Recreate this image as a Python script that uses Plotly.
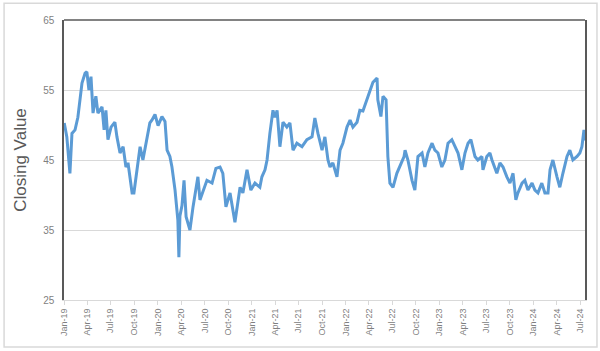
import plotly.graph_objects as go

dates = [
    "2019-01-02", "2019-01-12", "2019-01-24", "2019-02-01", "2019-02-13", "2019-02-24", "2019-03-12", "2019-03-24",
    "2019-03-31", "2019-04-08", "2019-04-16", "2019-04-24", "2019-05-05", "2019-05-13", "2019-05-29", "2019-06-06",
    "2019-06-13", "2019-06-21", "2019-07-03", "2019-07-18", "2019-07-26", "2019-08-07", "2019-08-19", "2019-08-30",
    "2019-09-07", "2019-09-23", "2019-09-30", "2019-10-16", "2019-10-24", "2019-11-04", "2019-11-20", "2019-12-01",
    "2019-12-09", "2019-12-21", "2020-01-02", "2020-01-17", "2020-01-29", "2020-02-06", "2020-02-17", "2020-02-25",
    "2020-03-08", "2020-03-19", "2020-03-23", "2020-03-27", "2020-04-04", "2020-04-12", "2020-04-20", "2020-05-05",
    "2020-05-17", "2020-06-05", "2020-06-13", "2020-06-25", "2020-07-10", "2020-07-30", "2020-08-14", "2020-08-30",
    "2020-09-10", "2020-09-22", "2020-10-08", "2020-10-27", "2020-11-16", "2020-11-27", "2020-12-13", "2020-12-28",
    "2021-01-13", "2021-02-01", "2021-02-09", "2021-02-21", "2021-03-01", "2021-03-12", "2021-03-24", "2021-04-01",
    "2021-04-09", "2021-04-20", "2021-05-02", "2021-05-17", "2021-05-29", "2021-06-10", "2021-06-25", "2021-07-15",
    "2021-08-03", "2021-08-23", "2021-09-03", "2021-09-15", "2021-10-01", "2021-10-12", "2021-10-24", "2021-11-01",
    "2021-11-12", "2021-11-28", "2021-12-10", "2021-12-21", "2022-01-06", "2022-01-18", "2022-01-29", "2022-02-14",
    "2022-02-25", "2022-03-09", "2022-03-25", "2022-04-05", "2022-04-17", "2022-05-03", "2022-05-06", "2022-05-18",
    "2022-05-26", "2022-06-07", "2022-06-14", "2022-06-22", "2022-07-04", "2022-07-19", "2022-08-04", "2022-08-16",
    "2022-08-20", "2022-08-31", "2022-09-16", "2022-09-27", "2022-10-09", "2022-10-25", "2022-11-05", "2022-11-17",
    "2022-12-03", "2022-12-14", "2022-12-26", "2023-01-10", "2023-01-22", "2023-02-03", "2023-02-18", "2023-03-02",
    "2023-03-14", "2023-03-29", "2023-04-10", "2023-04-22", "2023-05-03", "2023-05-19", "2023-05-30", "2023-06-15",
    "2023-06-19", "2023-07-04", "2023-07-16", "2023-07-24", "2023-08-12", "2023-08-24", "2023-09-05", "2023-09-20",
    "2023-10-02", "2023-10-14", "2023-10-25", "2023-11-02", "2023-11-18", "2023-11-29", "2023-12-11", "2023-12-27",
    "2024-01-07", "2024-01-19", "2024-02-03", "2024-02-15", "2024-02-27", "2024-03-06", "2024-03-17", "2024-04-02",
    "2024-04-13", "2024-04-25", "2024-05-11", "2024-05-22", "2024-06-03", "2024-06-19", "2024-06-30", "2024-07-08",
    "2024-07-16", "2024-07-19",
]

closing = [
    50.3, 48.3, 43.1, 48.8, 49.3, 51.1, 56.0, 57.4,
    57.6, 55.0, 56.9, 51.7, 54.1, 51.7, 52.6, 49.3,
    52.1, 47.9, 49.7, 50.4, 48.3, 46.0, 46.9, 44.0,
    44.6, 40.3, 40.3, 44.6, 46.9, 45.0, 47.9, 50.3,
    50.7, 51.5, 49.9, 51.2, 50.5, 46.4, 45.5, 44.0,
    40.7, 36.4, 31.1, 37.0, 38.5, 42.1, 36.9, 35.0,
    38.3, 42.6, 39.3, 40.7, 42.1, 41.7, 43.8, 44.0,
    43.1, 38.3, 40.3, 36.1, 41.1, 40.3, 43.6, 40.7,
    41.7, 41.1, 42.6, 43.6, 45.0, 48.8, 52.1, 51.1,
    52.1, 46.9, 50.4, 49.7, 50.3, 46.4, 47.4, 46.9,
    47.9, 48.3, 51.0, 48.8, 46.4, 48.3, 45.0, 44.0,
    44.6, 42.6, 46.4, 47.4, 49.7, 50.7, 49.7, 50.4,
    52.1, 52.0, 53.6, 54.6, 56.1, 56.7, 53.6, 51.2,
    54.1, 53.6, 45.5, 41.7, 41.1, 43.1, 44.6, 45.5,
    46.4, 45.0, 42.1, 40.7, 45.5, 46.0, 44.0, 46.0,
    47.4, 46.4, 46.0, 44.0, 45.0, 47.4, 47.9, 46.9,
    46.0, 43.6, 46.0, 47.4, 47.9, 45.5, 45.0, 45.5,
    43.6, 45.5, 46.0, 45.0, 43.1, 44.6, 44.0, 42.6,
    41.7, 43.1, 39.3, 40.3, 41.7, 42.1, 40.7, 41.7,
    40.7, 40.3, 41.7, 40.3, 40.3, 43.6, 45.0, 42.6,
    41.1, 43.1, 45.5, 46.4, 45.0, 45.5, 46.0, 46.9,
    49.3, 47.8,
]

y_ticks = [25, 35, 45, 55, 65]
y_title = "Closing Value"

fig = go.Figure()
fig.add_trace(go.Scatter(
    x=dates, y=closing, mode="lines",
    line=dict(color="#5b9bd5", width=3),
    hoverinfo="skip", showlegend=False,
))

fig.update_layout(
    width=600, height=351,
    margin=dict(l=64, r=15, t=20, b=51),
    paper_bgcolor="white", plot_bgcolor="white",
    font=dict(family="Liberation Sans, Arial, sans-serif", color="#7f7f7f"),
    xaxis=dict(
        type="date",
        range=["2019-01-01", "2024-07-20"],
        tick0="2019-01-01", dtick="M3", tickformat="%b-%y",
        tickangle=-90, tickfont=dict(size=9, color="#7f7f7f"),
        showgrid=False, zeroline=False,
        showline=True, linecolor="#d9d9d9", linewidth=1,
        ticks="outside", ticklen=4, tickcolor="#d9d9d9",
    ),
    yaxis=dict(
        range=[25, 65], tickvals=y_ticks,
        tickfont=dict(size=10, color="#7f7f7f"),
        showgrid=True, gridcolor="#d9d9d9", gridwidth=1,
        zeroline=False, showline=True, linecolor="#595959", linewidth=1.5,
        mirror=True, ticks="", ticklabelstandoff=6,
        title=dict(text=y_title, font=dict(size=17, color="#595959"), standoff=12),
    ),
    shapes=[
        dict(type="line", xref="paper", yref="paper", x0=0, x1=1, y0=1, y1=1,
             line=dict(color="#595959", width=1.5)),
        dict(type="rect", xref="paper", yref="paper", x0=-0.115, x1=1.023, y0=-0.168, y1=1.06,
             line=dict(color="#d9d9d9", width=1.5), fillcolor="rgba(0,0,0,0)", layer="below"),
    ],
)

fig.write_html("out.html")
